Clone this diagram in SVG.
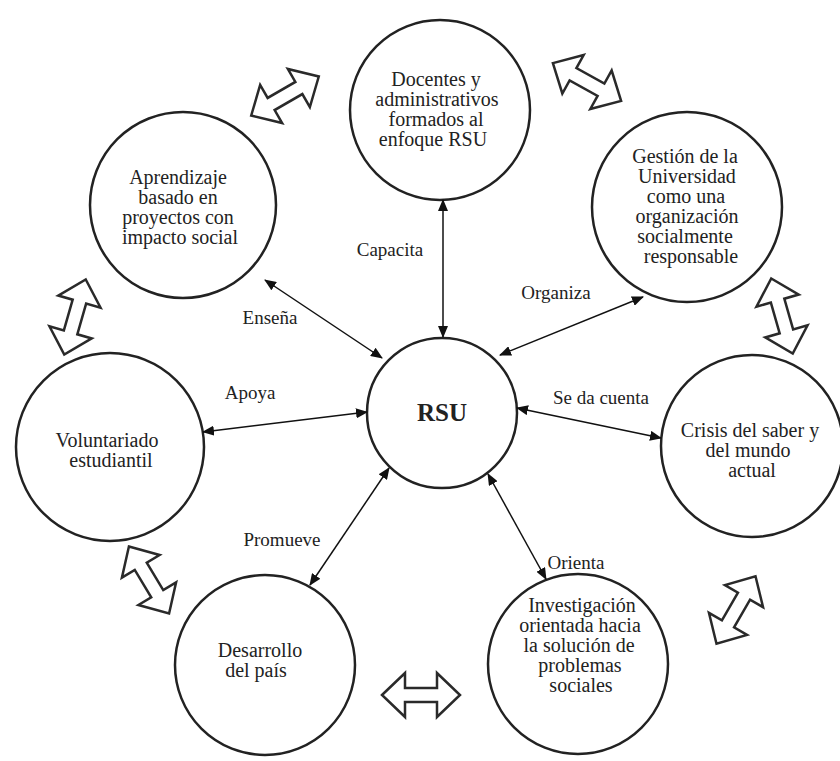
<svg xmlns="http://www.w3.org/2000/svg" width="840" height="761" viewBox="0 0 840 761">
<defs>
<style>
.node{fill:#fff;stroke:#222;stroke-width:2.5}
.t{font-family:"Liberation Serif","Times New Roman",serif;font-size:20px;fill:#222;text-anchor:middle}
.lbl{font-family:"Liberation Serif","Times New Roman",serif;font-size:19px;fill:#222;text-anchor:middle}
.con{stroke:#111;stroke-width:1.5;fill:none;marker-start:url(#ah);marker-end:url(#ah)}
.blk{fill:#fff;stroke:#2a2a2a;stroke-width:2.5;stroke-linejoin:miter}
</style>
<marker id="ah" viewBox="0 0 12 10" refX="11" refY="5" markerWidth="12" markerHeight="10" markerUnits="userSpaceOnUse" orient="auto-start-reverse">
<path d="M0,0 L12,5 L0,10 Z" fill="#111"/>
</marker>
<polygon id="dbl" points="-39,0 -16,-22 -16,-7 16,-7 16,-22 39,0 16,22 16,7 -16,7 -16,22"/>
</defs>
<rect width="840" height="761" fill="#fff"/>

<g id="blockarrows">
<use href="#dbl" class="blk" transform="translate(285,96) rotate(-30)"/>
<use href="#dbl" class="blk" transform="translate(587,82) rotate(29)"/>
<use href="#dbl" class="blk" transform="translate(75,317) rotate(106)"/>
<use href="#dbl" class="blk" transform="translate(782,316) rotate(74)"/>
<use href="#dbl" class="blk" transform="translate(149,580) rotate(59)"/>
<use href="#dbl" class="blk" transform="translate(736,610) rotate(-60)"/>
<use href="#dbl" class="blk" transform="translate(421,695)"/>
</g>

<g id="n-rsu">
<circle class="node" cx="442" cy="413" r="75"/>
<text class="t" x="442" y="421" style="font-size:25px;font-weight:bold">RSU</text>
</g>
<g id="n-docentes">
<circle class="node" cx="440" cy="110" r="90"/>
<text class="t" x="436" y="86">Docentes y</text>
<text class="t" x="437" y="106">administrativos</text>
<text class="t" x="436" y="126">formados al</text>
<text class="t" x="433" y="146">enfoque RSU</text>
</g>
<g id="n-aprendizaje">
<circle class="node" cx="183" cy="205" r="93"/>
<text class="t" x="178" y="184">Aprendizaje</text>
<text class="t" x="178" y="204">basado en</text>
<text class="t" x="178" y="224">proyectos con</text>
<text class="t" x="180" y="244">impacto social</text>
</g>
<g id="n-gestion">
<circle class="node" cx="687" cy="207" r="95"/>
<text class="t" x="685" y="163">Gestión de la</text>
<text class="t" x="687" y="183">Universidad</text>
<text class="t" x="686" y="203">como una</text>
<text class="t" x="687" y="223">organización</text>
<text class="t" x="685" y="243">socialmente</text>
<text class="t" x="691" y="263">responsable</text>
</g>
<g id="n-voluntariado">
<circle class="node" cx="110" cy="447" r="94"/>
<text class="t" x="107" y="447">Voluntariado</text>
<text class="t" x="111" y="467">estudiantil</text>
</g>
<g id="n-crisis">
<circle class="node" cx="752" cy="446" r="91"/>
<text class="t" x="750" y="437">Crisis del saber y</text>
<text class="t" x="748" y="457">del mundo</text>
<text class="t" x="752" y="477">actual</text>
</g>
<g id="n-desarrollo">
<circle class="node" cx="265" cy="665" r="90"/>
<text class="t" x="260" y="657">Desarrollo</text>
<text class="t" x="256" y="677">del país</text>
</g>
<g id="n-investigacion">
<circle class="node" cx="578" cy="664" r="90"/>
<text class="t" x="582" y="612">Investigación</text>
<text class="t" x="580" y="632">orientada hacia</text>
<text class="t" x="579" y="652">la solución de</text>
<text class="t" x="580" y="672">problemas</text>
<text class="t" x="581" y="692">sociales</text>
</g>

<g id="connectors">
<line class="con" x1="443" y1="200" x2="443" y2="337"/>
<line class="con" x1="265" y1="280" x2="382" y2="358"/>
<line class="con" x1="643" y1="297" x2="500" y2="355"/>
<line class="con" x1="203" y1="432" x2="367" y2="412"/>
<line class="con" x1="517" y1="408" x2="661" y2="438"/>
<line class="con" x1="389" y1="468" x2="310" y2="585"/>
<line class="con" x1="488" y1="474" x2="546" y2="579"/>
</g>

<g id="labels">
<text class="lbl" x="390" y="256">Capacita</text>
<text class="lbl" x="270" y="324">Enseña</text>
<text class="lbl" x="556" y="299">Organiza</text>
<text class="lbl" x="250" y="399">Apoya</text>
<text class="lbl" x="601" y="404">Se da cuenta</text>
<text class="lbl" x="282" y="546">Promueve</text>
<text class="lbl" x="576" y="569">Orienta</text>
</g>
</svg>
